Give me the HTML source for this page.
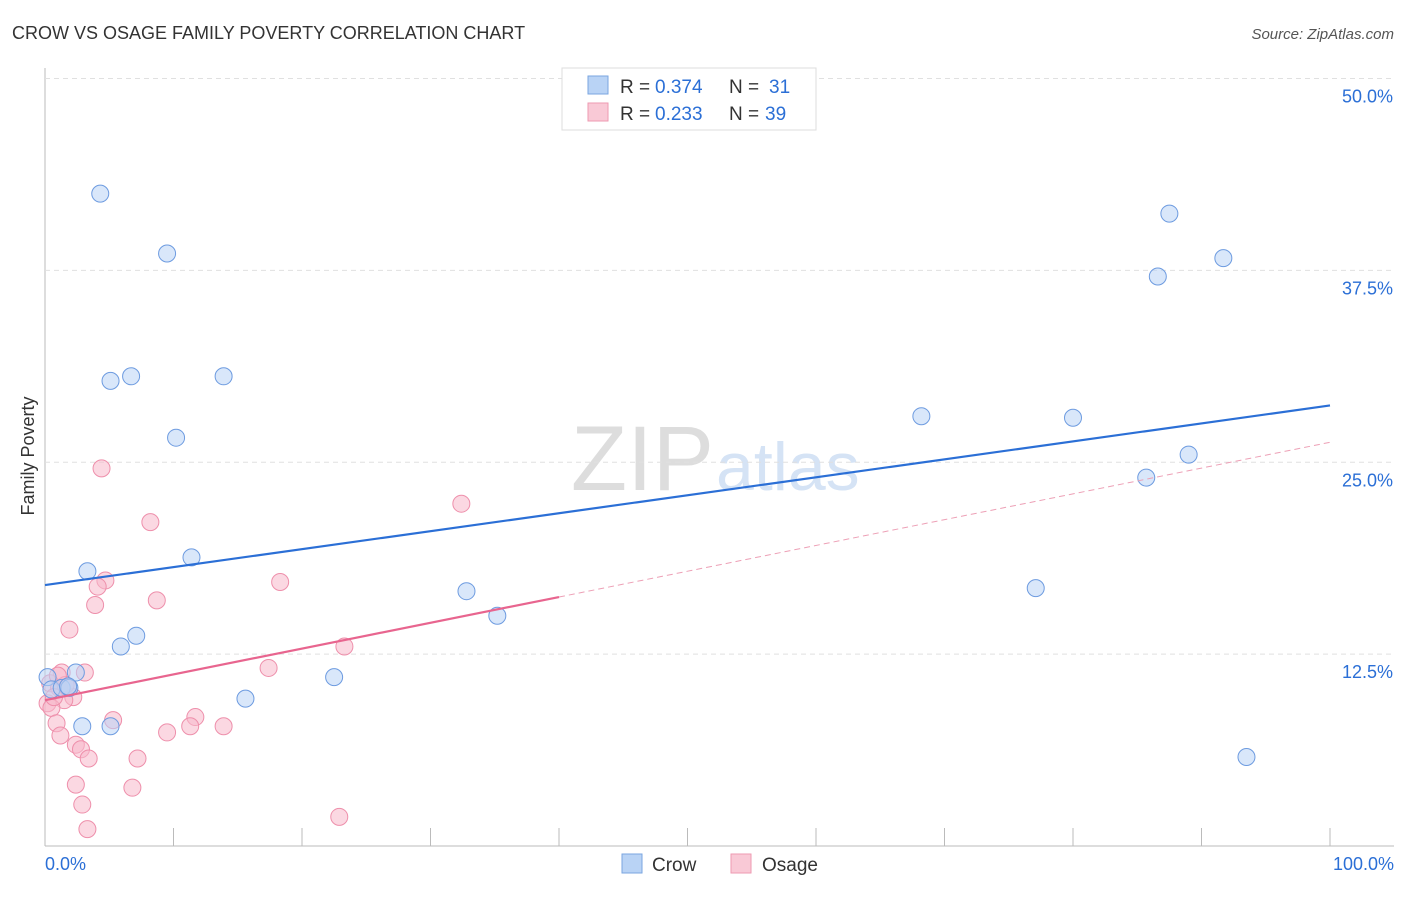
<!DOCTYPE html>
<html><head><meta charset="utf-8"><style>
body{margin:0;background:#fff;font-family:"Liberation Sans",sans-serif;}
svg text{font-family:"Liberation Sans",sans-serif;}
</style></head><body>
<svg id="c" width="1406" height="892">
<text x="12" y="39" font-size="18" fill="#333">CROW VS OSAGE FAMILY POVERTY CORRELATION CHART</text>
<text x="1394" y="39" font-size="15" fill="#555" font-style="italic" text-anchor="end">Source: ZipAtlas.com</text>
<text x="714" y="490" font-size="92" fill="#ddd" text-anchor="end" font-family="Liberation Serif">ZIP</text>
<text x="716" y="490" font-size="68" fill="#d5e3f5">atlas</text>
<text transform="translate(34,456) rotate(-90)" font-size="18" fill="#333" text-anchor="middle">Family Poverty</text>
<g id="grid"></g><g id="marks"></g>
<rect x="562" y="68" width="254" height="62" fill="#fff" stroke="#ddd"/>
<rect x="588" y="76" width="20" height="18" fill="#b9d3f5" stroke="#7aa6e0"/>
<rect x="588" y="103" width="20" height="18" fill="#f9c9d6" stroke="#ee9ab1"/>
<text x="620" y="93" font-size="19" fill="#333">R =</text>
<text x="655" y="93" font-size="19" fill="#2b6fd6">0.374</text>
<text x="729" y="93" font-size="19" fill="#333">N =</text>
<text x="769" y="93" font-size="19" fill="#2b6fd6">31</text>
<text x="620" y="120" font-size="19" fill="#333">R =</text>
<text x="655" y="120" font-size="19" fill="#2b6fd6">0.233</text>
<text x="729" y="120" font-size="19" fill="#333">N =</text>
<text x="765" y="120" font-size="19" fill="#2b6fd6">39</text>
<rect x="622" y="854" width="20" height="19" fill="#b9d3f5" stroke="#7aa6e0"/>
<text x="652" y="871" font-size="19" fill="#333">Crow</text>
<rect x="731" y="854" width="20" height="19" fill="#f9c9d6" stroke="#ee9ab1"/>
<text x="762" y="871" font-size="19" fill="#333">Osage</text>
<text x="45" y="870" font-size="18" fill="#2b6fd6">0.0%</text>
<text x="1394" y="870" font-size="18" fill="#2b6fd6" text-anchor="end">100.0%</text>
</svg>
<script>
const crowX=[4.3,9.5,5.1,6.7,13.9,10.2,11.4,3.3,7.1,5.9,2.9,5.1,15.6,22.5,32.8,35.2,68.2,80.0,85.7,89.0,77.1,86.6,87.5,91.7,93.5,0.2,0.5,1.3,1.9,2.4,1.8];
const crowY=[42.5,38.6,30.3,30.6,30.6,26.6,18.8,17.9,13.7,13.0,7.8,7.8,9.6,11.0,16.6,15.0,28.0,27.9,24.0,25.5,16.8,37.1,41.2,38.3,5.8,11.0,10.2,10.3,10.3,11.3,10.4];
const osageX=[4.4,8.2,4.7,4.1,3.9,8.7,1.9,18.3,32.4,23.3,17.4,3.1,1.3,0.4,1.1,1.8,2.2,1.5,0.2,0.5,0.9,5.3,11.7,13.9,11.3,9.5,1.2,2.4,2.8,3.4,7.2,2.4,2.9,6.8,3.3,22.9,1.6,1.0,0.7];
const osageY=[24.6,21.1,17.3,16.9,15.7,16.0,14.1,17.2,22.3,13.0,11.6,11.3,11.3,10.6,10.3,10.3,9.7,9.5,9.3,9.0,8.0,8.2,8.4,7.8,7.8,7.4,7.2,6.6,6.3,5.7,5.7,4.0,2.7,3.8,1.1,1.9,10.5,11.1,9.7];
const yTicks=[12.5,25.0,37.5,50.0];
const crowTrend=[17.0,28.7];
const osageTrend=[9.5,26.3];
const osageSolidEnd=40;
const X=v=>45+v*12.85, Y=v=>846-v*15.35;
const NS='http://www.w3.org/2000/svg';
function mk(t,a,p){const e=document.createElementNS(NS,t);for(const k in a)e.setAttribute(k,a[k]);p.appendChild(e);return e;}
const g=document.getElementById('grid'), m=document.getElementById('marks');
let l=mk('line',{x1:45,y1:68,x2:45,y2:846,stroke:'#bbb'},g);


l=mk('line',{x1:45,y1:846,x2:1394,y2:846,stroke:'#bbb'},g);


for(let i=0;i<=10;i++){const t=mk('line',{x1:X(i*10),y1:828,x2:X(i*10),y2:846,stroke:'#bbb'},g);

}
yTicks.forEach(v=>{const gl=mk('line',{x1:45,y1:Y(v),x2:1394,y2:Y(v),stroke:'#e0e0e0','stroke-dasharray':'5,4'},g);


const tx=mk('text',{x:1393,y:Y(v)+24,'font-size':18,fill:'#2b6fd6','text-anchor':'end'},g);tx.textContent=v.toFixed(1)+'%';

});
function pts(xs,ys,f,s,n){xs.forEach((x,i)=>{const c=mk('circle',{cx:X(x),cy:Y(ys[i]),r:8.5,fill:f,'fill-opacity':0.55,stroke:s,'stroke-width':1},m);

});}
pts(osageX,osageY,'#f7b8ca','#ee8fab','osage-point');
pts(crowX,crowY,'#b9d3f5','#6d9be0','crow-point');
l=mk('line',{x1:X(0),y1:Y(crowTrend[0]),x2:X(100),y2:Y(crowTrend[1]),stroke:'#2b6fd6','stroke-width':2.2},m);


const oy=x=>osageTrend[0]+(osageTrend[1]-osageTrend[0])*x/100;
l=mk('line',{x1:X(0),y1:Y(oy(0)),x2:X(osageSolidEnd),y2:Y(oy(osageSolidEnd)),stroke:'#e8658f','stroke-width':2.2},m);


l=mk('line',{x1:X(osageSolidEnd),y1:Y(oy(osageSolidEnd)),x2:X(100),y2:Y(oy(100)),stroke:'#eda0b6','stroke-width':1,'stroke-dasharray':'6,4'},m);


</script>
</body></html>
